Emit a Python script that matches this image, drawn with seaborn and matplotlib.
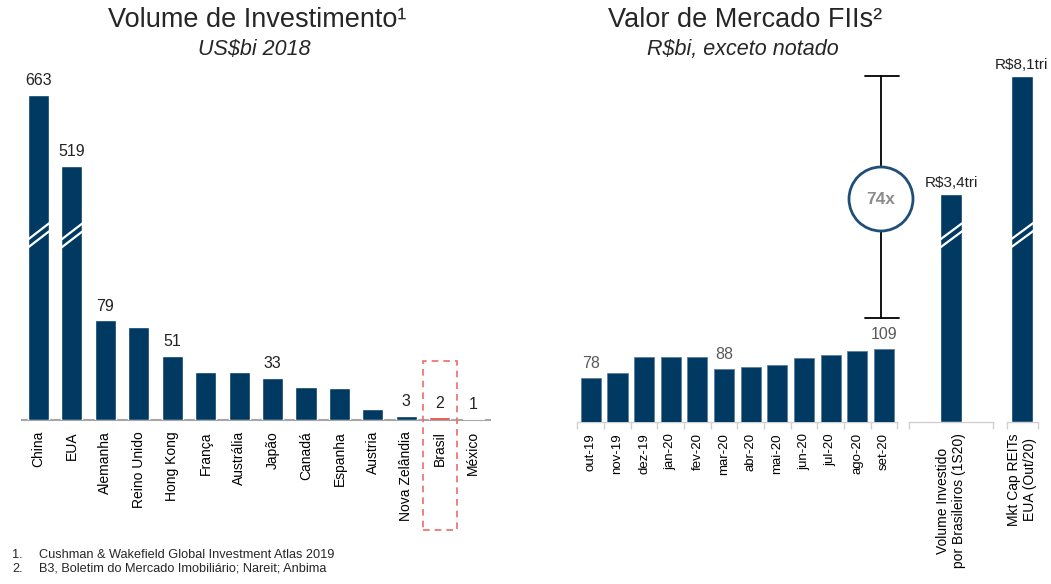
import numpy as np
import pandas as pd
import matplotlib
matplotlib.use("Agg")
import matplotlib.pyplot as plt
import seaborn as sns
from matplotlib.patches import Circle, Rectangle
from matplotlib.lines import Line2D
from matplotlib.transforms import blended_transform_factory, IdentityTransform

# ---------------- data ----------------
paises = ["China", "EUA", "Alemanha", "Reino Unido", "Hong Kong", "França",
          "Austrália", "Japão", "Canadá", "Espanha", "Austria",
          "Nova Zelândia", "Brasil", "México"]
volume = [663, 519, 79, 74, 51, 38, 38, 33, 26, 25, 9, 3, 2, 1]
rotulos_vol = ["663", "519", "79", "", "51", "", "", "33", "", "", "", "3", "2", "1"]

meses = ["out-19", "nov-19", "dez-19", "jan-20", "fev-20", "mar-20",
         "abr-20", "mai-20", "jun-20", "jul-20", "ago-20", "set-20"]
valor_fii = [78, 83, 100, 100, 100, 88, 90, 92, 99, 103, 107, 109]
rotulos_fii = ["78", "", "", "", "", "88", "", "", "", "", "", "109"]

comparativos = ["Volume Investido\npor Brasileiros (1S20)", "Mkt Cap REITs\nEUA (Out/20)"]
valor_comp = [3400, 8100]
rotulos_comp = ["R$3,4tri", "R$8,1tri"]
multiplo = "74x"

titulo_esq = "Volume de Investimento¹"
sub_esq = "US$bi 2018"
titulo_dir = "Valor de Mercado FIIs²"
sub_dir = "R$bi, exceto notado"
notas = [("1.", "Cushman & Wakefield Global Investment Atlas 2019"),
         ("2.", "B3, Boletim do Mercado Imobiliário; Nareit; Anbima")]

# ---------------- style ----------------
NAVY = "#003A63"
RED = "#E63B3B"
PINK = "#F4A3A3"
AXIS = "#A6A6A6"
sns.set_theme(style="white")
plt.rcParams["font.family"] = ["Liberation Sans", "DejaVu Sans"]


def esc(s):
    return s.replace("$", r"\$")


W, H = 1051, 584
fig = plt.figure(figsize=(W / 100, H / 100), dpi=100)


def rect(l, r, top, bottom):
    return [l / W, 1 - bottom / H, (r - l) / W, (bottom - top) / H]


ax1 = fig.add_axes(rect(21.7, 490, 60, 420))
ax2 = fig.add_axes(rect(577.4, 897.3, 60, 422))
ax3 = fig.add_axes(rect(909, 993, 60, 422))
ax4 = fig.add_axes(rect(1007, 1038, 60, 422))

# ---------------- left: broken-axis scale ----------------
xp = np.array([-1e4, 0, 100, 519, 663, 1e4])
fp = np.array([-1e4, 0, 100, 201.6, 258, 258 + (1e4 - 663) * 0.392])


def fwd(v):
    return np.interp(v, xp, fp)


def inv(v):
    return np.interp(v, fp, xp)


pal = {p: NAVY for p in paises}
pal["Brasil"] = RED
pal["México"] = PINK
sns.barplot(x=paises, y=volume, hue=paises, palette=pal, legend=False,
            width=0.63, saturation=1, ax=ax1, order=paises, hue_order=paises)
ax1.set_yscale("function", functions=(fwd, inv))
ax1.set_ylim(0, float(inv(285.7)))
ax1.set_xlim(-0.5, 13.5)
for c, lab in zip(ax1.containers, rotulos_vol):
    ax1.bar_label(c, labels=[lab], padding=5, fontsize=11.5, color="#222222")

# ---------------- right: months ----------------
sns.barplot(x=meses, y=valor_fii, color=NAVY, width=0.76, saturation=1,
            ax=ax2, edgecolor="#5d7f9f", linewidth=0.6)
ax2.set_ylim(31, 31 + 362 / 0.935)
ax2.set_xlim(-0.5, 11.5)
ax2.bar_label(ax2.containers[0], labels=rotulos_fii, padding=5,
              fontsize=11.5, color="#595959")

# ---------------- right: comparisons ----------------
sns.barplot(x=[comparativos[0]], y=[valor_comp[0]], color=NAVY, width=0.26,
            saturation=1, ax=ax3)
ax3.set_ylim(0, valor_comp[0] * 362 / 228)
ax3.set_xlim(-0.5, 0.5)
ax3.bar_label(ax3.containers[0], labels=[esc(rotulos_comp[0])], padding=3,
              fontsize=11, color="#222222")

sns.barplot(x=[comparativos[1]], y=[valor_comp[1]], color=NAVY, width=0.71,
            saturation=1, ax=ax4)
ax4.set_ylim(0, valor_comp[1] * 362 / 346.3)
ax4.set_xlim(-0.474, 0.526)
ax4.bar_label(ax4.containers[0], labels=[esc(rotulos_comp[1])], padding=3,
              fontsize=11, color="#222222")

# ---------------- axes cosmetics ----------------
for ax in (ax1, ax2, ax3, ax4):
    sns.despine(ax=ax, left=True)
    ax.set_yticks([])
    ax.set_xlabel("")
    ax.set_ylabel("")
    ax.set_facecolor("none")
    ax.spines["bottom"].set_zorder(0.5)
    ax.tick_params(axis="x", which="major", length=0, pad=8,
                   labelrotation=90, labelsize=10, labelcolor="black")
ax2.tick_params(axis="x", which="major", labelsize=9.5)
ax1.spines["bottom"].set_color(AXIS)
ax1.spines["bottom"].set_linewidth(1.5)
for ax in (ax2, ax3, ax4):
    ax.spines["bottom"].set_color("#D0D0D0")
    ax.spines["bottom"].set_linewidth(1.0)
    ax.tick_params(axis="x", which="minor", length=5, color="#D0D0D0",
                   width=1.0, bottom=True)
ax2.set_xticks(np.arange(-0.5, 12, 1), minor=True)
ax3.set_xticks([-0.5, 0.5], minor=True)
ax4.set_xticks([-0.474, 0.526], minor=True)
for ax in (ax3, ax4):
    for t in ax.get_xticklabels():
        t.set_multialignment("center")


# ---------------- break marks ----------------
def quebra(ax, xc, half, ybase, ytop):
    tr = blended_transform_factory(ax.transData, ax.transAxes)
    frac = lambda y: (ybase - y) / (ybase - ytop)
    for off in (0, 8):
        ax.add_line(Line2D([xc - half * 1.05, xc + half * 1.05],
                           [frac(240 + off), frac(223 + off)], transform=tr,
                           color="white", lw=1.6, clip_on=False, zorder=5))


quebra(ax1, 0, 0.315, 420, 60)
quebra(ax1, 1, 0.315, 420, 60)
quebra(ax3, 0, 0.13, 422, 60)
quebra(ax4, 0, 0.355, 422, 60)

# ---------------- 74x annotation ----------------
idt = IdentityTransform()


def P(x, y):
    return x, H - y


for (x0, y0), (x1, y1) in [((881, 76), (881, 318)), ((865, 76), (899, 76)),
                           ((865, 318), (899, 318))]:
    fig.add_artist(Line2D([P(x0, y0)[0], P(x1, y1)[0]],
                          [P(x0, y0)[1], P(x1, y1)[1]], transform=idt,
                          color="black", lw=1.3))
fig.add_artist(Circle(P(881, 199), 32, transform=idt, facecolor="white",
                      edgecolor="#1F4E79", lw=2, zorder=6))
fig.text(881 / W, 1 - 200 / H, multiplo, ha="center", va="center",
         fontsize=12.5, fontweight="bold", color="#8C8C8C", zorder=7)

# ---------------- Brasil dashed box ----------------
fig.add_artist(Rectangle(P(423, 530), 34, 169, transform=idt, fill=False,
                         edgecolor="#EE6B6B", lw=1.2, ls=(0, (4, 3))))

# ---------------- titles & notes ----------------
fig.text(257 / W, 1 - 27 / H, titulo_esq, ha="center", va="baseline",
         fontsize=19.5)
fig.text(254 / W, 1 - 55 / H, esc(sub_esq), ha="center", va="baseline",
         fontsize=15.5, style="italic")
fig.text(745 / W, 1 - 27 / H, titulo_dir, ha="center", va="baseline",
         fontsize=19.5)
fig.text(743 / W, 1 - 55 / H, esc(sub_dir), ha="center", va="baseline",
         fontsize=15.5, style="italic")
for i, (n, t) in enumerate(notas):
    y = 1 - (555 + 13.5 * i) / H
    fig.text(12 / W, y, n, fontsize=9.2, va="center")
    fig.text(39 / W, y, t, fontsize=9.2, va="center")

fig.savefig("out.png", dpi=100)
